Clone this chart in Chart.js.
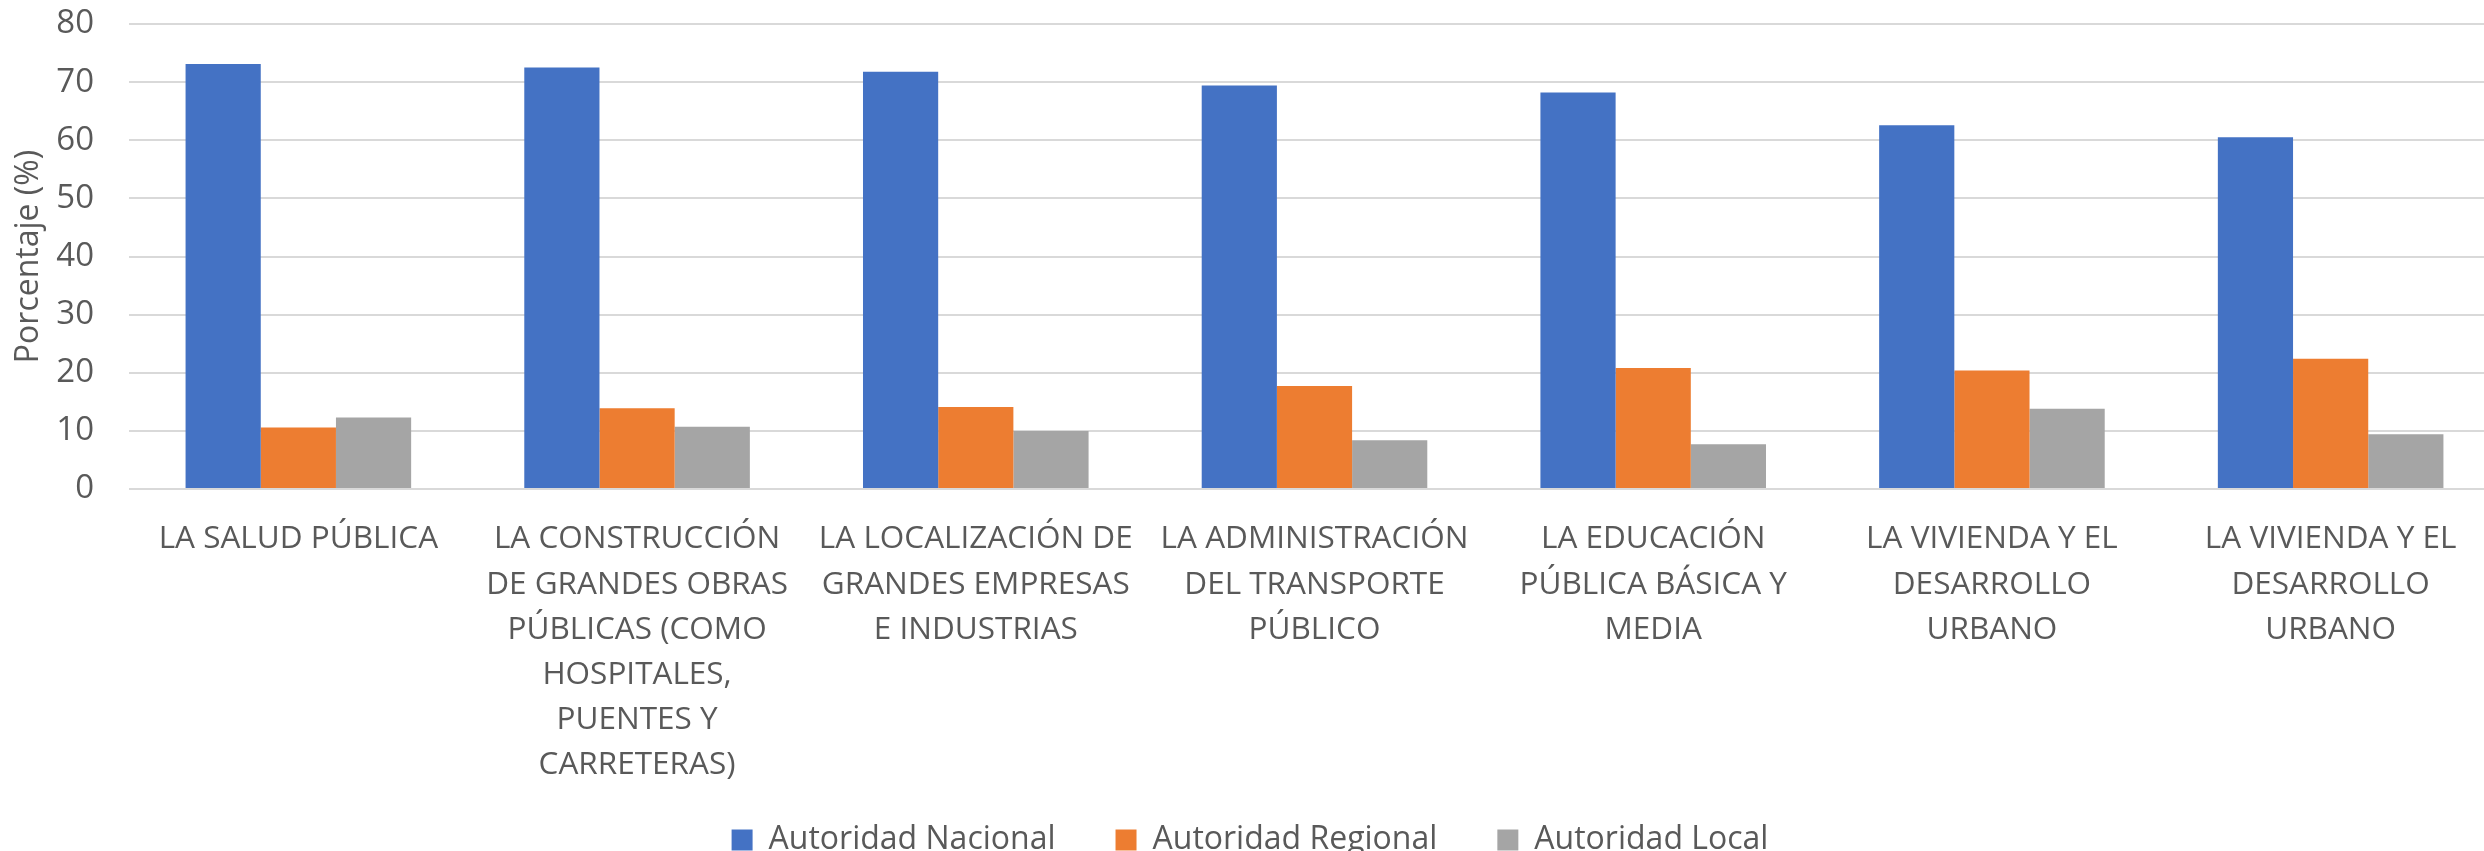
<!DOCTYPE html>
<html>
<head>
<meta charset="utf-8">
<script src="https://cdn.jsdelivr.net/npm/chart.js@4/dist/chart.umd.min.js"></script>
<style>
  html, body { margin: 0; padding: 0; background: #ffffff; overflow: hidden; }
  #wrap { width: 2484px; height: 851px; overflow: hidden; position: relative; }
  canvas { display: block; }
</style>
</head>
<body>
<div id="wrap"><canvas id="c" width="2500" height="851" style="width:2500px;height:851px"></canvas></div>
<script>
const categories = [
  ["LA SALUD PÚBLICA"],
  ["LA CONSTRUCCIÓN", "DE GRANDES OBRAS", "PÚBLICAS (COMO", "HOSPITALES,", "PUENTES Y", "CARRETERAS)"],
  ["LA LOCALIZACIÓN DE", "GRANDES EMPRESAS", "E INDUSTRIAS"],
  ["LA ADMINISTRACIÓN", "DEL TRANSPORTE", "PÚBLICO"],
  ["LA EDUCACIÓN", "PÚBLICA BÁSICA Y", "MEDIA"],
  ["LA VIVIENDA Y EL", "DESARROLLO", "URBANO"],
  ["LA VIVIENDA Y EL", "DESARROLLO", "URBANO"]
];
const seriesNames = ["Autoridad Nacional", "Autoridad Regional", "Autoridad Local"];
const autoridadNacional = [73.1, 72.5, 71.8, 69.4, 68.2, 62.6, 60.5];
const autoridadRegional = [10.6, 13.9, 14.1, 17.7, 20.8, 20.4, 22.4];
const autoridadLocal = [12.3, 10.7, 10.0, 8.4, 7.7, 13.8, 9.4];
const yTicks = [0, 10, 20, 30, 40, 50, 60, 70, 80];
const yTitle = "Porcentaje (%)";

const colors = ["#4472C4", "#ED7D31", "#A5A5A5"];
const textColor = "#595959";
const fontFamily = "'Open Sans', 'Noto Sans', sans-serif";

const mk = (i, data) => ({
  label: seriesNames[i],
  data: data,
  backgroundColor: colors[i],
  borderWidth: 0,
  barPercentage: 1.0,
  categoryPercentage: 0.666
});

new Chart(document.getElementById('c'), {
  type: 'bar',
  data: {
    labels: categories,
    datasets: [mk(0, autoridadNacional), mk(1, autoridadRegional), mk(2, autoridadLocal)]
  },
  options: {
    responsive: false,
    animation: false,
    devicePixelRatio: 1,
    layout: { padding: { top: 24, left: 0, right: 0, bottom: -15 } },
    plugins: {
      tooltip: { enabled: false },
      legend: {
        position: 'bottom',
        align: 'center',
        labels: {
          boxWidth: 21,
          boxHeight: 21,
          padding: 60,
          color: textColor,
          font: { family: fontFamily, size: 32 }
        }
      }
    },
    scales: {
      x: {
        type: 'category',
        offset: true,
        grid: { display: false, drawTicks: false },
        border: { display: false },
        ticks: {
          color: textColor,
          font: { family: fontFamily, size: 31.5, lineHeight: 1.43 },
          maxRotation: 0,
          minRotation: 0,
          autoSkip: false,
          padding: 28
        },
        afterFit: (s) => {
          s.height = 275;
          s._computeLabelArea = () => undefined;
        }
      },
      y: {
        min: 0,
        max: 80,
        afterBuildTicks: (s) => { s.ticks = yTicks.map(v => ({ value: v })); },
        grid: { color: '#d9d9d9', lineWidth: 2, drawTicks: true, tickLength: 35, tickColor: 'rgba(0,0,0,0)' },
        border: { display: false },
        ticks: {
          color: textColor,
          font: { family: fontFamily, size: 33 },
          padding: 0
        },
        title: {
          display: true,
          text: yTitle,
          color: textColor,
          font: { family: fontFamily, size: 32 },
          padding: { top: 10, bottom: 0 }
        },
        afterFit: (s) => { s.width = 129; }
      }
    }
  }
});
</script>
</body>
</html>
